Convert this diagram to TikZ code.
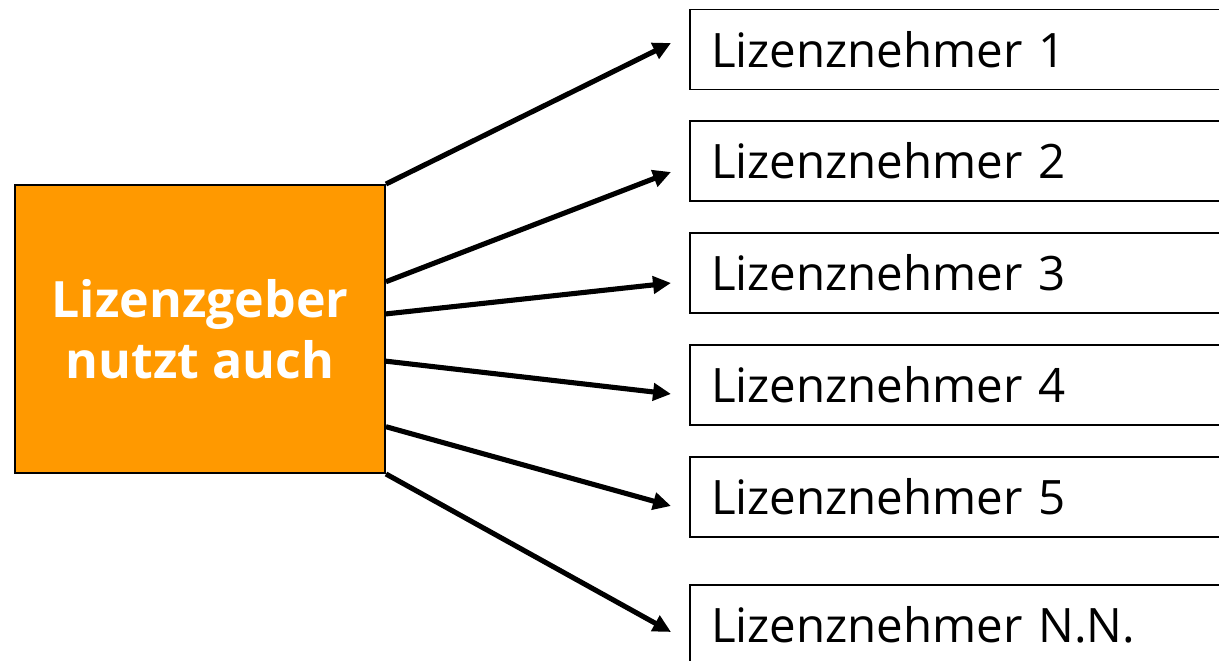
\documentclass[tikz,border=0pt]{standalone}
\usepackage{fontspec}
\setmainfont{Open Sans}
\usetikzlibrary{arrows.meta,positioning,calc}
\definecolor{geberorange}{HTML}{FF9900}

\begin{document}
\begin{tikzpicture}[
        geber/.style={draw,rectangle,fill=geberorange,line width=1.1pt,minimum width=7.4cm,minimum height=5.76cm,align=center,text=white,font=\fontsize{28.5}{35}\selectfont\bfseries},
        nehmer/.style={draw,rectangle,line width=1.1pt,minimum width=11cm,minimum height=1.6cm,inner xsep=0.42cm,text width=10.16cm,align=left,font=\fontsize{27}{32}\selectfont},
        pfeil/.style={draw,line width=2.9pt,-{Triangle[length=0.36cm,width=0.34cm]}}]
        \useasboundingbox (0,0) rectangle (24.38,13.22);
        \clip (0,0) rectangle (24.38,13.22);

        \node[geber] (geber) at (4.0,6.64) {Lizenzgeber\\nutzt auch};

        \node[nehmer] (nehmer1) at (19.3,12.23) {Lizenznehmer 1};
        \node[nehmer] (nehmer2) at (19.3,10.0) {Lizenznehmer 2};
        \node[nehmer] (nehmer3) at (19.3,7.76) {Lizenznehmer 3};
        \node[nehmer] (nehmer4) at (19.3,5.52) {Lizenznehmer 4};
        \node[nehmer] (nehmer5) at (19.3,3.28) {Lizenznehmer 5};
        \node[nehmer] (nehmerN) at (19.3,0.72) {Lizenznehmer N.N.};

        \path[pfeil] (geber.north east) -- ([shift={(-0.36,0.13)}]nehmer1.west);
        \path[pfeil] ($(geber.north east)!0.337!(geber.south east)$) -- ([shift={(-0.36,-0.22)}]nehmer2.west);
        \path[pfeil] ($(geber.north east)!0.448!(geber.south east)$) -- ([shift={(-0.36,-0.2)}]nehmer3.west);
        \path[pfeil] ($(geber.north east)!0.611!(geber.south east)$) -- ([shift={(-0.36,-0.18)}]nehmer4.west);
        \path[pfeil] ($(geber.north east)!0.837!(geber.south east)$) -- ([shift={(-0.36,-0.18)}]nehmer5.west);
        \path[pfeil] (geber.south east) -- ([shift={(-0.36,-0.14)}]nehmerN.west);
\end{tikzpicture}
\end{document}
